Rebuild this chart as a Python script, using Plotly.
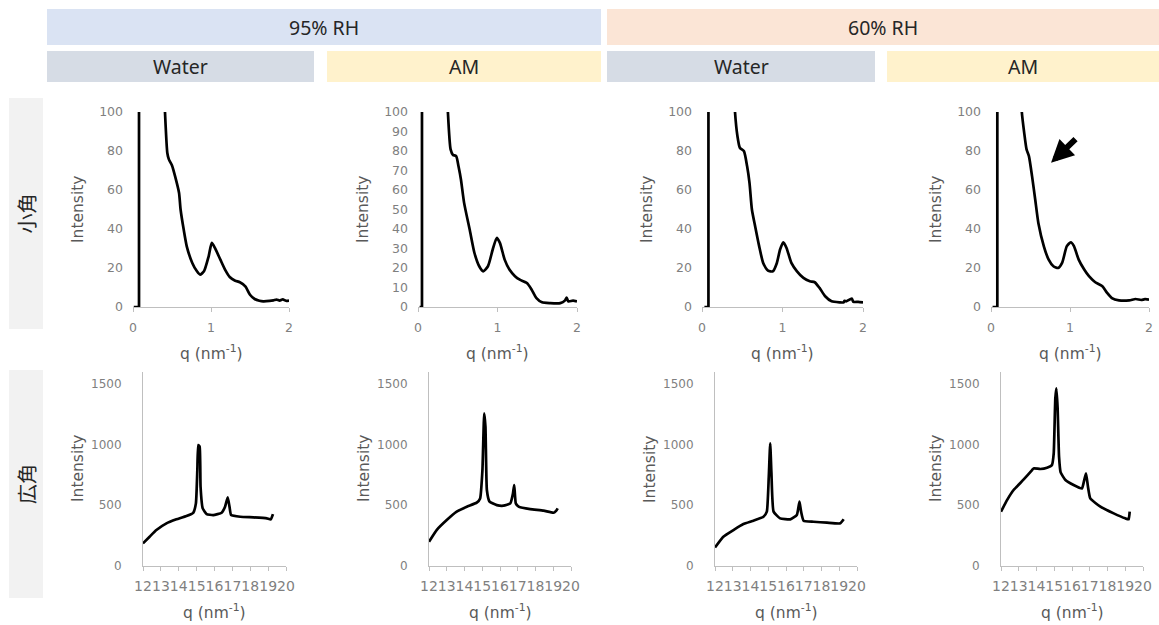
import plotly.graph_objects as go

W, H = 1159, 625

# ---------------- data ----------------
# Small-angle (小角) panels: beam-stop edge (q, intensity) and scattering curve (q, intensity)
bs_q_95w, bs_i_95w = [0.01, 0.077, 0.077], [0, 0, 3000]
bs_q_95am, bs_i_95am = [0.02, 0.05, 0.05], [0, 0, 3000]
bs_q_60w, bs_i_60w = [0.03, 0.08, 0.08], [0, 0, 3000]
bs_q_60am, bs_i_60am = [0.02, 0.08, 0.08], [0, 0, 3000]

sa_q_95w = [0.38, 0.41, 0.44, 0.46, 0.50, 0.54, 0.59, 0.61, 0.65, 0.69, 0.76, 0.82, 0.86,
            0.91, 0.97, 1.01, 1.05, 1.12, 1.18, 1.24, 1.31, 1.37, 1.44, 1.50, 1.56, 1.62, 1.67, 1.75, 1.80,
            1.84, 1.88, 1.92, 1.96, 2.0]
sa_i_95w = [130, 100, 79, 75.7, 72.6, 67, 58.6, 50, 39.7, 31, 22.6, 18.3, 16.6,
            18.3, 26, 32.9, 30.3, 24.3, 19.2, 15.4, 13.5, 12.7, 10.6, 6.3, 4.1, 3.2, 2.9, 3.1, 3.4,
            3.8, 3.3, 3.9, 3.2, 3.3]

sa_q_95am = [0.35, 0.376, 0.41, 0.44, 0.48, 0.51, 0.54, 0.58, 0.65, 0.71, 0.77, 0.82, 0.88,
             0.94, 0.99, 1.03, 1.09, 1.15, 1.22, 1.28, 1.37, 1.43, 1.49, 1.56, 1.66, 1.79, 1.85, 1.87,
             1.89, 1.95, 2.0]
sa_i_95am = [130, 100, 80.8, 78, 77.4, 72, 65.4, 53.4, 39.7, 27.7, 20.9, 18.3, 20.9,
             29.5, 35.4, 32.9, 24.3, 19.2, 15.8, 14, 12.3, 8.9, 4.6, 2.4, 2.0, 2.0, 3.4, 4.8,
             2.9, 3.3, 2.9]

sa_q_60w = [0.38, 0.41, 0.44, 0.47, 0.52, 0.56, 0.59, 0.62, 0.66, 0.71, 0.76, 0.82, 0.88,
            0.93, 0.97, 1.01, 1.05, 1.11, 1.18, 1.26, 1.34, 1.40, 1.46, 1.53, 1.61, 1.71, 1.76, 1.77,
            1.79, 1.86, 1.88, 1.94, 2.0]
sa_i_60w = [130, 100, 87.7, 81.7, 80, 72.3, 63.7, 50, 41.4, 31.2, 22.6, 18.7, 18.3,
            22.6, 29.5, 33.2, 30.3, 22.6, 18.3, 14.9, 13.2, 12.7, 9.8, 5.5, 2.9, 2.4, 2.4, 3.2,
            2.9, 4.3, 2.7, 2.6, 2.4]

sa_q_60am = [0.36, 0.39, 0.42, 0.45, 0.48, 0.52, 0.56, 0.60, 0.67, 0.73, 0.79, 0.85, 0.90,
             0.96, 1.01, 1.05, 1.11, 1.18, 1.24, 1.32, 1.41, 1.47, 1.53, 1.62, 1.75, 1.83, 1.90, 1.95, 2.0]
sa_i_60am = [130, 100, 89.4, 80.8, 77.4, 67, 55, 43, 31, 24.3, 20.9, 20, 22.6,
             31.2, 33.2, 31.2, 24.3, 19.2, 15.8, 12.7, 10.6, 7.2, 4.6, 3.4, 3.4, 4.1, 3.6, 4.0, 3.8]

# Wide-angle (広角) panels
wa_q_95w = [12.0, 12.37, 12.75, 13.31, 13.87, 14.43, 14.81, 14.96, 15.04, 15.09, 15.17, 15.22, 15.34, 15.56,
            15.93, 16.40, 16.59, 16.74, 16.84, 16.93, 17.44, 18.18, 18.93, 19.15, 19.27]
wa_i_95w = [186, 241, 296, 351, 384, 411, 438, 515, 789, 995, 981, 652, 474, 427,
            419, 438, 488, 564, 488, 419, 405, 400, 392, 384, 427]

wa_q_95am = [12.0, 12.43, 13.0, 13.56, 14.13, 14.69, 14.88, 15.01, 15.11, 15.18, 15.26, 15.41, 15.82, 16.2,
             16.58, 16.73, 16.80, 16.89, 17.05, 17.70, 18.46, 19.02, 19.17, 19.25]
wa_i_95am = [200, 296, 378, 447, 488, 521, 556, 789, 1255, 1145, 625, 529, 501, 496,
             515, 597, 666, 515, 488, 468, 455, 438, 455, 474]

wa_q_60w = [12.0, 12.47, 13.04, 13.6, 14.17, 14.73, 14.92, 15.03, 15.11, 15.18, 15.30, 15.67, 16.24, 16.61,
            16.76, 16.85, 16.99, 17.55, 18.31, 19.06, 19.25]
wa_i_60w = [153, 241, 296, 345, 373, 405, 447, 734, 1008, 762, 447, 392, 384, 419,
            529, 447, 373, 364, 356, 351, 384]

wa_q_60am = [12.0, 12.34, 12.71, 13.28, 13.75, 13.84, 14.22, 14.59, 14.87, 14.97, 15.06, 15.12, 15.19, 15.27,
             15.36, 15.63, 16.09, 16.56, 16.69, 16.79, 16.90, 17.03, 17.6, 18.35, 19.0, 19.19, 19.25]
wa_i_60am = [447, 542, 625, 712, 789, 803, 798, 808, 830, 926, 1380, 1462, 1300, 900,
             770, 707, 666, 638, 707, 762, 652, 556, 488, 433, 392, 384, 447]

group_labels = ["95% RH", "60% RH"]
sample_labels = ["Water", "AM", "Water", "AM"]
row_labels = ["小角", "広角"]
x_title = "q (nm<sup>-1</sup>)"
y_title = "Intensity"

stop_sets = [(bs_q_95w, bs_i_95w), (bs_q_95am, bs_i_95am), (bs_q_60w, bs_i_60w), (bs_q_60am, bs_i_60am)]
small_sets = [(sa_q_95w, sa_i_95w), (sa_q_95am, sa_i_95am), (sa_q_60w, sa_i_60w), (sa_q_60am, sa_i_60am)]
wide_sets = [(wa_q_95w, wa_i_95w), (wa_q_95am, wa_i_95am), (wa_q_60w, wa_i_60w), (wa_q_60am, wa_i_60am)]
small_ytick_step = [20, 10, 20, 20]

# ---------------- layout helpers (pixel geometry) ----------------
def px(x):
    return x / W

def py(y):
    return 1 - y / H

small_x = [(133, 289), (418, 577), (702, 863), (991, 1149)]
small_y = (112, 307)
wide_x = [(143, 286), (429, 571), (715, 857), (1001, 1143)]
wide_y = (371.5, 566)

TICK_FONT = dict(family="DejaVu Sans", size=12.5, color="#7F7F7F")
WIDE_Y_FONT = dict(family="DejaVu Sans", size=12, color="#7F7F7F")
WIDE_X_FONT = dict(family="DejaVu Sans", size=14, color="#7F7F7F")
TITLE_FONT = dict(family="DejaVu Sans", size=15.5, color="#595959")
AXIS_COLOR = "#BFBFBF"
LINE = dict(color="black", width=2.7)

fig = go.Figure()
layout = {}
annotations = []
shapes = []

for i, (qs, ys) in enumerate(small_sets):
    n = i + 1
    sq, si = stop_sets[i]
    fig.add_trace(go.Scatter(x=sq, y=si, mode="lines", line=LINE,
                             xaxis=f"x{n}", yaxis=f"y{n}", showlegend=False, hoverinfo="skip"))
    fig.add_trace(go.Scatter(x=qs, y=ys, mode="lines", line=dict(LINE, shape="spline", smoothing=0.6),
                             xaxis=f"x{n}", yaxis=f"y{n}", showlegend=False, hoverinfo="skip"))
    x0, x1 = small_x[i]
    layout[f"xaxis{n}"] = dict(domain=[px(x0), px(x1)], range=[0, 2], anchor=f"y{n}",
                               tickvals=[0, 1, 2], showgrid=False, zeroline=False,
                               showline=True, linecolor=AXIS_COLOR, linewidth=1,
                               ticks="outside", ticklen=4, tickcolor=AXIS_COLOR,
                               tickfont=TICK_FONT, tickangle=0, ticklabelstandoff=5, automargin=False)
    step = small_ytick_step[i]
    layout[f"yaxis{n}"] = dict(domain=[py(small_y[1]), py(small_y[0])], range=[0, 100], anchor=f"x{n}",
                               tickvals=list(range(0, 101, step)), showgrid=False, zeroline=False,
                               showline=False, ticks="", tickfont=TICK_FONT, ticklabelstandoff=9,
                               automargin=False)
    annotations.append(dict(text=y_title, x=px(small_x[i][0] - 55), y=py(210), xref="paper", yref="paper",
                            textangle=-90, showarrow=False, font=TITLE_FONT, xanchor="center", yanchor="middle"))
    annotations.append(dict(text=x_title, x=px((x0 + x1) / 2), y=py(352), xref="paper", yref="paper",
                            showarrow=False, font=TITLE_FONT, xanchor="center", yanchor="middle"))

for i, (qs, ys) in enumerate(wide_sets):
    n = i + 5
    fig.add_trace(go.Scatter(x=qs, y=ys, mode="lines", line=dict(LINE, shape="spline", smoothing=0.4),
                             xaxis=f"x{n}", yaxis=f"y{n}", showlegend=False, hoverinfo="skip"))
    x0, x1 = wide_x[i]
    layout[f"xaxis{n}"] = dict(domain=[px(x0), px(x1)], range=[12, 20], anchor=f"y{n}",
                               tickvals=list(range(12, 21)), showgrid=False, zeroline=False,
                               showline=True, linecolor=AXIS_COLOR, linewidth=1,
                               ticks="outside", ticklen=4, tickcolor=AXIS_COLOR,
                               tickfont=WIDE_X_FONT, tickangle=0, ticklabelstandoff=3, automargin=False)
    layout[f"yaxis{n}"] = dict(domain=[py(wide_y[1]), py(wide_y[0])], range=[0, 1600], anchor=f"x{n}",
                               tickvals=[0, 500, 1000, 1500], showgrid=False, zeroline=False,
                               showline=True, linecolor=AXIS_COLOR, linewidth=1, ticks="",
                               tickfont=WIDE_Y_FONT, ticklabelstandoff=18, automargin=False)
    annotations.append(dict(text=y_title, x=px(wide_x[i][0] - 65), y=py(469), xref="paper", yref="paper",
                            textangle=-90, showarrow=False, font=TITLE_FONT, xanchor="center", yanchor="middle"))
    annotations.append(dict(text=x_title, x=px((x0 + x1) / 2), y=py(611), xref="paper", yref="paper",
                            showarrow=False, font=TITLE_FONT, xanchor="center", yanchor="middle"))

# arrow in 60% RH AM small-angle panel
annotations.append(dict(x=0.76, y=74, xref="x4", yref="y4", ax=26, ay=-25, showarrow=True,
                        arrowhead=2, arrowsize=0.75, arrowwidth=6, arrowcolor="black", text=""))

# header boxes
HEADER_FONT = dict(family="Noto Sans", size=19.5, color="#262626")
group_boxes = [(47, 601, "#DAE3F3"), (607, 1159, "#FBE5D6")]
for (x0, x1, col), lab in zip(group_boxes, group_labels):
    shapes.append(dict(type="rect", xref="paper", yref="paper", x0=px(x0), x1=px(x1), y0=py(45), y1=py(9),
                       fillcolor=col, line=dict(width=0), layer="below"))
    annotations.append(dict(text=lab, x=px((x0 + x1) / 2), y=py(27), xref="paper", yref="paper",
                            showarrow=False, font=HEADER_FONT, xanchor="center", yanchor="middle"))
sample_boxes = [(47, 314, "#D6DCE5"), (327, 601, "#FFF2CC"), (607, 875, "#D6DCE5"), (887, 1159, "#FFF2CC")]
for (x0, x1, col), lab in zip(sample_boxes, sample_labels):
    shapes.append(dict(type="rect", xref="paper", yref="paper", x0=px(x0), x1=px(x1), y0=py(82), y1=py(51),
                       fillcolor=col, line=dict(width=0), layer="below"))
    annotations.append(dict(text=lab, x=px((x0 + x1) / 2), y=py(67), xref="paper", yref="paper",
                            showarrow=False, font=HEADER_FONT, xanchor="center", yanchor="middle"))

row_boxes = [(98, 329), (370, 598)]
for (y0, y1), lab in zip(row_boxes, row_labels):
    shapes.append(dict(type="rect", xref="paper", yref="paper", x0=px(9), x1=px(43), y0=py(y1), y1=py(y0),
                       fillcolor="#F2F2F2", line=dict(width=0), layer="below"))
    annotations.append(dict(text=lab, x=px(26), y=py((y0 + y1) / 2), xref="paper", yref="paper",
                            textangle=-90, showarrow=False,
                            font=dict(family="Noto Sans CJK JP", size=20, color="#262626"),
                            xanchor="center", yanchor="middle"))

fig.update_layout(width=W, height=H, margin=dict(l=0, r=0, t=0, b=0, pad=0, autoexpand=False),
                  paper_bgcolor="white", plot_bgcolor="white",
                  annotations=annotations, shapes=shapes, **layout)

fig.write_html("out.html", config={"displayModeBar": False},
               post_script="document.body.style.margin='0';document.body.style.overflow='hidden';")
